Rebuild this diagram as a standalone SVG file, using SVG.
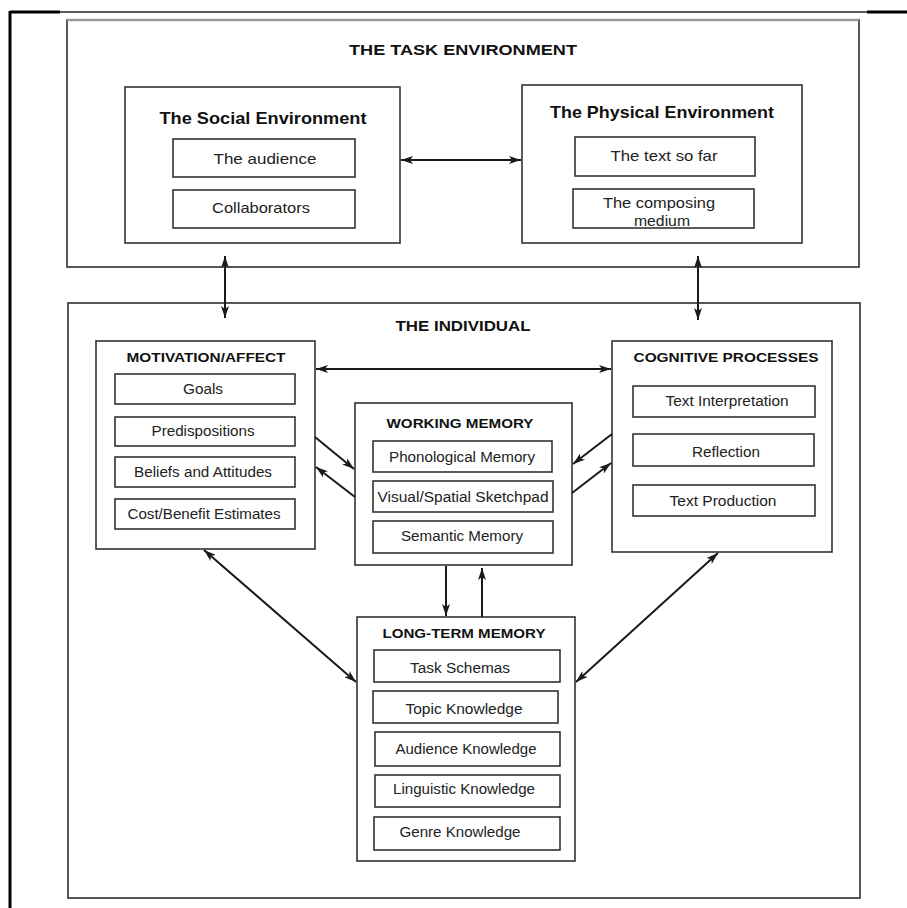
<svg xmlns="http://www.w3.org/2000/svg" width="907" height="908" viewBox="0 0 907 908">
<defs>
<marker id="ah" viewBox="0 0 12 8" refX="12" refY="4" markerWidth="12" markerHeight="8" markerUnits="userSpaceOnUse" orient="auto-start-reverse">
<path d="M0,0 L12,4 L0,8 L3,4 z" fill="#1a1a1a"/>
</marker>
</defs>
<style>
.box{fill:none;stroke:#333;stroke-width:1.6}
.outer{fill:none;stroke:#444;stroke-width:1.8}
.t{font-family:"Liberation Sans",Arial,sans-serif;fill:#222;text-anchor:middle;font-size:14px}
.h{font-family:"Liberation Sans",Arial,sans-serif;fill:#111;text-anchor:middle;font-weight:bold;font-size:13px}
.h2{font-family:"Liberation Sans",Arial,sans-serif;fill:#111;text-anchor:middle;font-weight:bold;font-size:17px}
.c{fill:none;stroke:#1a1a1a;stroke-width:2}
</style>
<rect width="907" height="908" fill="#fff"/>
<g id="frame">
<line x1="10" y1="12" x2="907" y2="12" stroke="#222" stroke-width="1.5"/>
<line x1="10" y1="12" x2="60" y2="12" stroke="#000" stroke-width="3"/>
<line x1="867" y1="12" x2="907" y2="12" stroke="#000" stroke-width="3"/>
<line x1="10" y1="11" x2="10" y2="908" stroke="#000" stroke-width="3"/>
</g>
<g id="task-environment">
<rect class="outer" x="67" y="20" width="792" height="247"/>
<line x1="67" y1="20" x2="859" y2="20" stroke="#999" stroke-width="2.5"/>
<text class="h" x="463" y="55" textLength="228" lengthAdjust="spacingAndGlyphs" style="font-size:15px">THE TASK ENVIRONMENT</text>
</g>
<g id="social-environment">
<rect class="box" x="125" y="87" width="275" height="156"/>
<text class="h2" x="263" y="124" textLength="207" lengthAdjust="spacingAndGlyphs">The Social Environment</text>
</g>
<g id="the-audience">
<rect class="box" x="173" y="139" width="182" height="38"/>
<text class="t" x="265" y="164" textLength="103" lengthAdjust="spacingAndGlyphs" style="font-size:14.5px">The  audience</text>
</g>
<g id="collaborators">
<rect class="box" x="173" y="190" width="182" height="38"/>
<text class="t" x="261" y="213" textLength="98" lengthAdjust="spacingAndGlyphs" style="font-size:14.5px">Collaborators</text>
</g>
<g id="physical-environment">
<rect class="box" x="522" y="85" width="280" height="158"/>
<text class="h2" x="662" y="118" textLength="224" lengthAdjust="spacingAndGlyphs">The Physical Environment</text>
</g>
<g id="text-so-far">
<rect class="box" x="575" y="137" width="180" height="39"/>
<text class="t" x="664" y="161" textLength="107" lengthAdjust="spacingAndGlyphs" style="font-size:14.5px">The text so far</text>
</g>
<g id="composing-medium">
<rect class="box" x="573" y="189" width="181" height="39"/>
<text class="t" x="659" y="208" textLength="112" lengthAdjust="spacingAndGlyphs" style="font-size:14.5px">The composing</text>
<text class="t" x="662" y="226" textLength="56" lengthAdjust="spacingAndGlyphs" style="font-size:14.5px">medium</text>
</g>
<g id="individual">
<rect class="outer" x="68" y="303" width="792" height="595"/>
<text class="h" x="463" y="331" textLength="135" lengthAdjust="spacingAndGlyphs" style="font-size:15px">THE INDIVIDUAL</text>
</g>
<g id="motivation-affect">
<rect class="box" x="96" y="341" width="219" height="208"/>
<text class="h" x="206" y="362" textLength="159" lengthAdjust="spacingAndGlyphs">MOTIVATION/AFFECT</text>
</g>
<g id="goals"><rect class="box" x="115" y="374" width="180" height="30"/><text class="t" x="203" y="394" textLength="40" lengthAdjust="spacingAndGlyphs">Goals</text></g>
<g id="predispositions"><rect class="box" x="115" y="417" width="180" height="29"/><text class="t" x="203" y="436" textLength="103" lengthAdjust="spacingAndGlyphs">Predispositions</text></g>
<g id="beliefs"><rect class="box" x="115" y="457" width="180" height="30"/><text class="t" x="203" y="477" textLength="138" lengthAdjust="spacingAndGlyphs">Beliefs and Attitudes</text></g>
<g id="cost-benefit"><rect class="box" x="115" y="499" width="180" height="30"/><text class="t" x="204" y="519" textLength="153" lengthAdjust="spacingAndGlyphs">Cost/Benefit Estimates</text></g>
<g id="working-memory">
<rect class="box" x="355" y="403" width="217" height="162"/>
<text class="h" x="460" y="428" textLength="147" lengthAdjust="spacingAndGlyphs">WORKING MEMORY</text>
</g>
<g id="phonological"><rect class="box" x="373" y="441" width="179" height="31"/><text class="t" x="462" y="462" textLength="146" lengthAdjust="spacingAndGlyphs">Phonological Memory</text></g>
<g id="visual-spatial"><rect class="box" x="373" y="481" width="180" height="31"/><text class="t" x="463" y="502" textLength="171" lengthAdjust="spacingAndGlyphs">Visual/Spatial Sketchpad</text></g>
<g id="semantic"><rect class="box" x="373" y="521" width="180" height="32"/><text class="t" x="462" y="541" textLength="122" lengthAdjust="spacingAndGlyphs">Semantic Memory</text></g>
<g id="cognitive-processes">
<rect class="box" x="612" y="341" width="220" height="211"/>
<text class="h" x="726" y="362" textLength="185" lengthAdjust="spacingAndGlyphs">COGNITIVE PROCESSES</text>
</g>
<g id="text-interpretation"><rect class="box" x="633" y="386" width="182" height="31"/><text class="t" x="727" y="406" textLength="123" lengthAdjust="spacingAndGlyphs">Text Interpretation</text></g>
<g id="reflection"><rect class="box" x="633" y="434" width="181" height="32"/><text class="t" x="726" y="457" textLength="68" lengthAdjust="spacingAndGlyphs">Reflection</text></g>
<g id="text-production"><rect class="box" x="633" y="485" width="182" height="31"/><text class="t" x="723" y="506" textLength="107" lengthAdjust="spacingAndGlyphs">Text Production</text></g>
<g id="long-term-memory">
<rect class="box" x="357" y="617" width="218" height="244"/>
<text class="h" x="464" y="638" textLength="163" lengthAdjust="spacingAndGlyphs">LONG-TERM MEMORY</text>
</g>
<g id="task-schemas"><rect class="box" x="374" y="650" width="186" height="32"/><text class="t" x="460" y="673" textLength="100" lengthAdjust="spacingAndGlyphs">Task Schemas</text></g>
<g id="topic-knowledge"><rect class="box" x="373" y="691" width="185" height="32"/><text class="t" x="464" y="714" textLength="117" lengthAdjust="spacingAndGlyphs">Topic Knowledge</text></g>
<g id="audience-knowledge"><rect class="box" x="375" y="732" width="185" height="34"/><text class="t" x="466" y="754" textLength="141" lengthAdjust="spacingAndGlyphs">Audience Knowledge</text></g>
<g id="linguistic-knowledge"><rect class="box" x="375" y="775" width="185" height="32"/><text class="t" x="464" y="794" textLength="142" lengthAdjust="spacingAndGlyphs">Linguistic Knowledge</text></g>
<g id="genre-knowledge"><rect class="box" x="374" y="817" width="186" height="33"/><text class="t" x="460" y="837" textLength="121" lengthAdjust="spacingAndGlyphs">Genre Knowledge</text></g>
<g id="connectors">
<line class="c" x1="401" y1="160" x2="521" y2="160" marker-start="url(#ah)" marker-end="url(#ah)"/>
<line class="c" x1="225" y1="256" x2="225" y2="318" marker-start="url(#ah)" marker-end="url(#ah)"/>
<line class="c" x1="698" y1="256" x2="698" y2="320" marker-start="url(#ah)" marker-end="url(#ah)"/>
<line class="c" x1="316" y1="369" x2="611" y2="369" marker-start="url(#ah)" marker-end="url(#ah)"/>
<line class="c" x1="315" y1="437" x2="354" y2="469" marker-end="url(#ah)"/>
<line class="c" x1="355" y1="497" x2="316" y2="467" marker-end="url(#ah)"/>
<line class="c" x1="612" y1="434" x2="573" y2="464" marker-end="url(#ah)"/>
<line class="c" x1="572" y1="493" x2="611" y2="463" marker-end="url(#ah)"/>
<line class="c" x1="446" y1="566" x2="446" y2="616" marker-end="url(#ah)"/>
<line class="c" x1="482" y1="617" x2="482" y2="568" marker-end="url(#ah)"/>
<line class="c" x1="204" y1="550" x2="356" y2="682" marker-start="url(#ah)" marker-end="url(#ah)"/>
<line class="c" x1="718" y1="553" x2="576" y2="682" marker-start="url(#ah)" marker-end="url(#ah)"/>
</g>
</svg>
